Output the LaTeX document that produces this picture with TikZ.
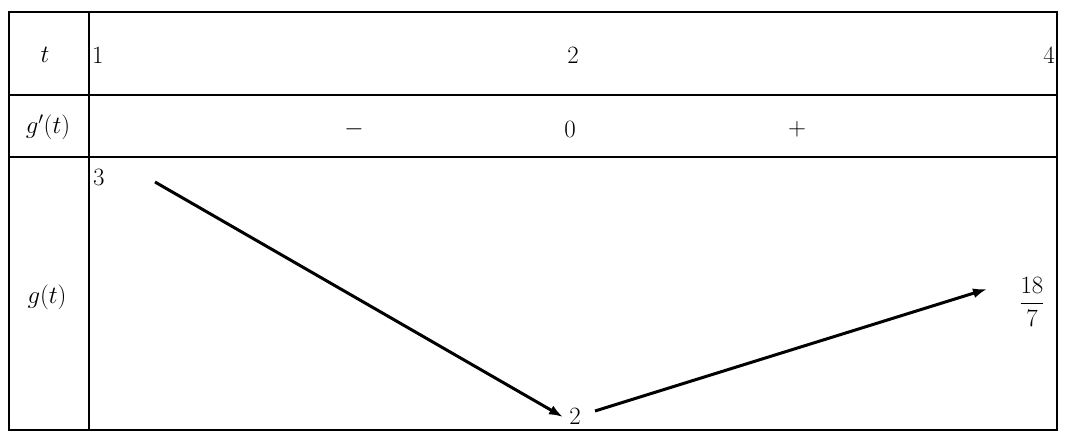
\documentclass[tikz,border=0pt]{standalone}
\usetikzlibrary{arrows.meta}
\begin{document}
\begin{tikzpicture}[x=1pt,y=-1pt,
  lab/.style={font=\fontsize{27}{32}\selectfont, inner sep=0pt},
  arr/.style={line width=3pt,-{Latex[length=14pt,width=10pt]}}]
\useasboundingbox (0,0) rectangle (1065,439);
\draw[line width=1.5pt] (9,12) rectangle (1057,430);
\draw[line width=1.5pt] (9,95) -- (1057,95) (9,157) -- (1057,157);
\draw[line width=2.5pt] (89,12) -- (89,430);
\node[lab] (t) at (45,55) {$t$};
\node[lab,anchor=west] (x1) at (92,55) {$1$};
\node[lab] (x2) at (573,55) {$2$};
\node[lab,anchor=east] (x4) at (1055,55) {$4$};
\node[lab] (gp) at (48,127) {$g'(t)$};
\node[lab] (mi) at (354,129) {$-$};
\node[lab] (z) at (570,129) {$0$};
\node[lab] (pl) at (797,129) {$+$};
\node[lab] (g) at (47,297) {$g(t)$};
\node[lab,anchor=west] (v3) at (93,177) {$3$};
\node[lab] (v2) at (575,416) {$2$};
\node[lab] (v18) at (1032,302) {$\displaystyle\frac{18}{7}$};
\draw[arr] (155,182) -- (563,417);
\draw[arr] (595,411) -- (987,289);
\end{tikzpicture}
\end{document}
